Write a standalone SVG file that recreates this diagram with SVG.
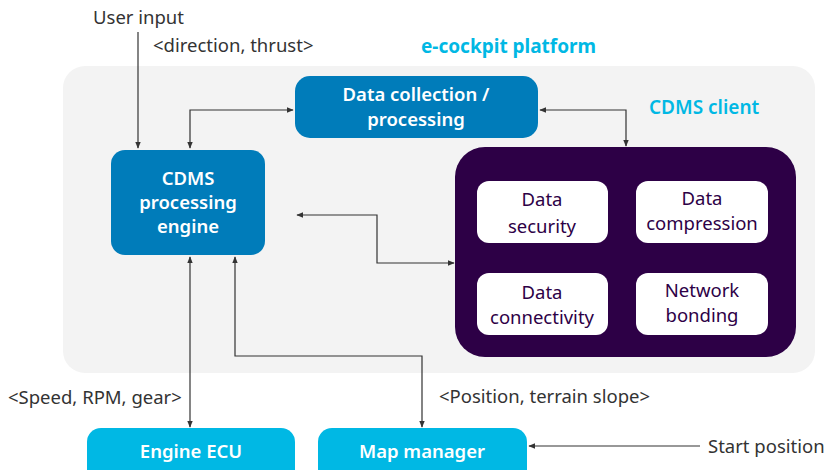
<svg xmlns="http://www.w3.org/2000/svg" width="830" height="470" viewBox="0 0 830 470">
<style>
.t{font-family:"Noto Sans","Open Sans",sans-serif;font-size:18.5px;fill:#333}
.w{font-family:"Noto Sans","Open Sans",sans-serif;font-size:18.5px;font-weight:600;fill:#fff;text-anchor:middle}
.p{font-family:"Noto Sans","Open Sans",sans-serif;font-size:18.5px;fill:#2d0046;text-anchor:middle}
.c{font-family:"Noto Sans","Open Sans",sans-serif;font-size:19px;font-weight:700;fill:#00b8e4}
.ln{fill:none;stroke:#333;stroke-width:1.2}
</style>
<defs>
<marker id="a" viewBox="0 0 10 10" refX="9" refY="5" markerWidth="7" markerHeight="7" orient="auto-start-reverse" markerUnits="userSpaceOnUse">
<path d="M0,1 L10,5 L0,9 z" fill="#333"/>
</marker>
</defs>
<rect id="platform" x="63" y="66" width="752" height="307" rx="22" fill="#f3f3f3"/>
<text class="c" x="421" y="53">e-cockpit platform</text>
<text class="c" x="649" y="114" style="font-weight:600">CDMS client</text>
<text class="t" x="93" y="24">User input</text>
<text class="t" x="153" y="52">&lt;direction, thrust&gt;</text>
<text class="t" x="8" y="404">&lt;Speed, RPM, gear&gt;</text>
<text class="t" x="439" y="403">&lt;Position, terrain slope&gt;</text>
<text class="t" x="708" y="453">Start position</text>
<g id="connectors">
<path class="ln" d="M138,32 V148" marker-end="url(#a)"/>
<path class="ln" d="M190,148 V110 H293" marker-start="url(#a)" marker-end="url(#a)"/>
<path class="ln" d="M540,110 H626 V146" marker-start="url(#a)" marker-end="url(#a)"/>
<path class="ln" d="M297,215 H377 V263 H454" marker-start="url(#a)" marker-end="url(#a)"/>
<path class="ln" d="M190,257 V427" marker-start="url(#a)" marker-end="url(#a)"/>
<path class="ln" d="M235,257 V356 H422 V427" marker-start="url(#a)" marker-end="url(#a)"/>
<path class="ln" d="M700,446 H529" marker-end="url(#a)"/>
</g>
<g id="data-collection">
<rect x="295" y="76" width="243" height="62" rx="15" fill="#007cba"/>
<text class="w" x="416" y="101">Data collection /</text>
<text class="w" x="416" y="126">processing</text>
</g>
<g id="cdms-engine">
<rect x="111" y="150" width="154" height="105" rx="14" fill="#007cba"/>
<text class="w" x="188" y="185">CDMS</text>
<text class="w" x="188" y="209">processing</text>
<text class="w" x="188" y="233">engine</text>
</g>
<g id="cdms-client">
<rect x="455" y="147" width="341" height="210" rx="30" fill="#2d0046"/>
</g>
<g id="data-security">
<rect x="477" y="181" width="131" height="62" rx="12" fill="#fff"/>
<text class="p" x="542" y="206">Data</text>
<text class="p" x="542" y="233">security</text>
</g>
<g id="data-compression">
<rect x="636" y="181" width="132" height="62" rx="12" fill="#fff"/>
<text class="p" x="702" y="205">Data</text>
<text class="p" x="702" y="230">compression</text>
</g>
<g id="data-connectivity">
<rect x="477" y="273" width="131" height="62" rx="12" fill="#fff"/>
<text class="p" x="542" y="299">Data</text>
<text class="p" x="542" y="324">connectivity</text>
</g>
<g id="network-bonding">
<rect x="636" y="273" width="132" height="62" rx="12" fill="#fff"/>
<text class="p" x="702" y="297">Network</text>
<text class="p" x="702" y="322">bonding</text>
</g>
<g id="engine-ecu">
<rect x="87" y="428" width="208" height="56" rx="14" fill="#00b8e4"/>
<text class="w" x="191" y="458">Engine ECU</text>
</g>
<g id="map-manager">
<rect x="318" y="428" width="209" height="56" rx="14" fill="#00b8e4"/>
<text class="w" x="422" y="458">Map manager</text>
</g>
</svg>
